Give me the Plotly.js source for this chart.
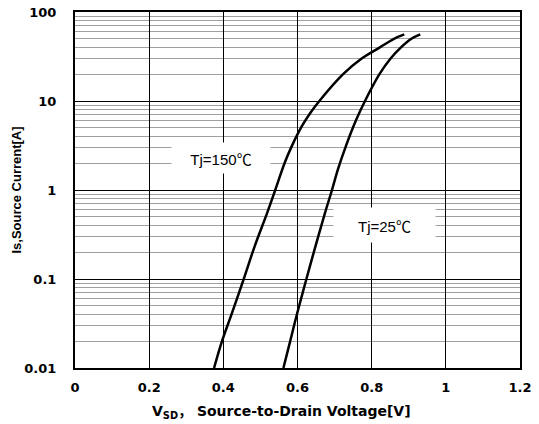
<!DOCTYPE html>
<html>
<head>
<meta charset="utf-8">
<script src="https://cdn.plot.ly/plotly-3.0.1.min.js"></script>
<style>html,body{margin:0;padding:0;background:#fff;}#chart{width:539px;height:424px;}</style>
</head>
<body>
<div id="chart"></div>
<script>
// Tj = 150 °C curve
const vsd150 = [0.375, 0.396, 0.423, 0.455, 0.484, 0.518, 0.540, 0.565, 0.584, 0.611, 0.634, 0.659, 0.723, 0.773, 0.822, 0.860, 0.888];
const is150  = [0.01, 0.0198, 0.041, 0.1, 0.23, 0.55, 1.0, 2.0, 3.07, 5.14, 7.28, 10, 20, 30, 40, 50, 56];
// Tj = 25 °C curve
const vsd25 = [0.562, 0.580, 0.599, 0.624, 0.648, 0.674, 0.693, 0.709, 0.730, 0.758, 0.782, 0.821, 0.851, 0.879, 0.907, 0.931];
const is25  = [0.01, 0.0198, 0.041, 0.1, 0.23, 0.55, 1.0, 1.7, 3.07, 6.1, 10, 20, 30, 40, 50, 56];
const xTicks = [0, 0.2, 0.4, 0.6, 0.8, 1, 1.2];
const xTickText = ["0", "0.2", "0.4", "0.6", "0.8", "1", "1.2"];
const yTicks = [0.01, 0.1, 1, 10, 100];
const yTickText = ["0.01", "0.1", "1", "10", "100"];
const labels = ["Tj=150", "Tj=25"];
const unit = "℃";
const xTitle = "Source-to-Drain Voltage[V]";
const yTitle = "Is,Source Current[A]";

const FONT = "Liberation Sans, Arial, sans-serif";
const BOLD = "DejaVu Sans, Liberation Sans, Noto Sans CJK SC, sans-serif";
const CJK = "Noto Sans CJK SC";

const lineStyle = {color: "#000", width: 2.5, shape: "spline", smoothing: 1};
const traces = [
  {x: vsd150, y: is150, mode: "lines", line: lineStyle, showlegend: false, hoverinfo: "skip"},
  {x: vsd25, y: is25, mode: "lines", line: lineStyle, showlegend: false, hoverinfo: "skip"}
];

function lab(t) {
  return t + '<span style="font-family:' + CJK + '">' + unit + '</span>';
}

const layout = {
  width: 539, height: 424,
  margin: {l: 75, r: 19, t: 12, b: 56},
  paper_bgcolor: "#fff", plot_bgcolor: "#fff",
  font: {family: FONT, color: "#000", size: 13},
  xaxis: {
    range: [0, 1.2], tickvals: xTicks, ticktext: xTickText,
    showgrid: true, gridcolor: "#000", gridwidth: 1,
    zeroline: false, showline: true, linecolor: "#000", linewidth: 2, mirror: true,
    ticks: "", tickfont: {family: BOLD, size: 13, color: "#000", weight: "bold"},
    ticklabelstandoff: 6
  },
  yaxis: {
    type: "log", range: [-2, 2], tickvals: yTicks, ticktext: yTickText,
    showgrid: true, gridcolor: "#000", gridwidth: 1,
    minor: {dtick: "D1", showgrid: true, gridcolor: "#a0a0a0", gridwidth: 1, ticks: ""},
    zeroline: false, showline: true, linecolor: "#000", linewidth: 2, mirror: true,
    ticks: "", tickfont: {family: BOLD, size: 13, color: "#000", weight: "bold"},
    ticklabelstandoff: 14,
    title: {text: yTitle, font: {family: FONT, size: 13, color: "#000", weight: "bold"}, standoff: 0}
  },
  annotations: [
    {x: 0.394, y: 0.36, xref: "x", yref: "y", text: lab(labels[0]), showarrow: false,
     font: {family: FONT, size: 15, color: "#000"}, bgcolor: "#fff", width: 94, height: 26, borderpad: 2},
    {x: 0.834, y: -0.393, xref: "x", yref: "y", text: lab(labels[1]), showarrow: false,
     font: {family: FONT, size: 15, color: "#000"}, bgcolor: "#fff", width: 97, height: 30, borderpad: 2},
    {x: 0.464, y: -0.118, xref: "paper", yref: "paper", xanchor: "center", yanchor: "middle", showarrow: false,
     text: 'V<sub>SD</sub><span style="font-family:' + CJK + '">，</span> ' + xTitle,
     font: {family: BOLD, size: 14, color: "#000", weight: "bold"}}
  ]
};

Plotly.newPlot("chart", traces, layout, {displayModeBar: false, staticPlot: true});
</script>
</body>
</html>
